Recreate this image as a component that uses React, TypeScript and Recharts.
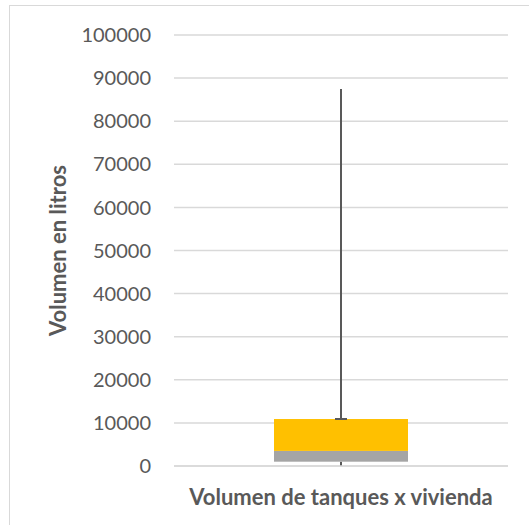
import { ComposedChart, Bar, XAxis, YAxis, CartesianGrid } from 'recharts';

const categories = ['Volumen de tanques x vivienda'];
const minValues = [0];
const q1Values = [1000];
const medianValues = [3500];
const q3Values = [10900];
const maxValues = [87500];
const yTicks = [0, 10000, 20000, 30000, 40000, 50000, 60000, 70000, 80000, 90000, 100000];

const data = categories.map((name, i) => ({
  name,
  min: minValues[i],
  q1: q1Values[i],
  median: medianValues[i],
  q3: q3Values[i],
  max: maxValues[i],
  base: q1Values[i],
  lower: medianValues[i] - q1Values[i],
  upper: q3Values[i] - medianValues[i],
}));

const WHISKER = '#595959';
const TEXT = '#595959';
const GRID = '#d9d9d9';
const FONT = 'Lato, "Open Sans", sans-serif';

// gray segment (Q1 -> median) plus the lower whisker down to the minimum
const LowerBox = (props: any) => {
  const { x, y, width, height, payload, fill } = props;
  const ppu = height / payload.lower;
  const cx = x + width / 2;
  const bottom = y + height;
  const minY = bottom + (payload.q1 - payload.min) * ppu;
  return (
    <g>
      <line x1={cx} x2={cx} y1={bottom} y2={minY} stroke={WHISKER} strokeWidth={2} />
      <rect x={x} y={y} width={width} height={height} fill={fill} />
    </g>
  );
};

// yellow segment (median -> Q3) plus the upper whisker up to the maximum
const UpperBox = (props: any) => {
  const { x, y, width, height, payload, fill } = props;
  const ppu = height / payload.upper;
  const cx = x + width / 2;
  const maxY = y - (payload.max - payload.q3) * ppu;
  return (
    <g>
      <rect x={x} y={y} width={width} height={height} fill={fill} />
      <line x1={cx} x2={cx} y1={y} y2={maxY} stroke={WHISKER} strokeWidth={2} />
      <line x1={cx - 6} x2={cx + 6} y1={y} y2={y} stroke={WHISKER} strokeWidth={2} />
    </g>
  );
};

const App = () => (
  <div style={{ position: 'absolute', left: 0, top: 0, width: 529, height: 525, overflow: 'hidden', background: '#fff' }}>
    <div style={{ position: 'absolute', left: 9, top: 5, width: 700, height: 700, border: '1px solid #d9d9d9' }} />
    <div style={{ position: 'absolute', left: 0, top: 0 }}>
      <ComposedChart width={529} height={525} data={data} margin={{ top: 35, right: 21, bottom: 0, left: 0 }} barSize={134}>
        <CartesianGrid vertical={false} stroke={GRID} strokeWidth={1.5} />
        <XAxis
          dataKey="name"
          tick={false}
          tickLine={false}
          axisLine={{ stroke: GRID, strokeWidth: 1.5 }}
          height={59}
          label={{ value: categories[0], position: 'center', dy: 2, fill: TEXT, fontSize: 22, fontWeight: 700, fontFamily: FONT }}
        />
        <YAxis
          width={174}
          domain={[0, 100000]}
          ticks={yTicks}
          interval={0}
          tickLine={false}
          axisLine={false}
          tickMargin={17}
          tick={{ fill: TEXT, fontSize: 20, fontFamily: FONT }}
          label={{ value: 'Volumen en litros', angle: -90, position: 'center', dx: -29, fill: TEXT, fontSize: 22, fontWeight: 700, fontFamily: FONT }}
        />
        <Bar dataKey="base" stackId="box" fill="transparent" isAnimationActive={false} />
        <Bar dataKey="lower" stackId="box" fill="#a5a5a5" shape={LowerBox} isAnimationActive={false} />
        <Bar dataKey="upper" stackId="box" fill="#ffc000" shape={UpperBox} isAnimationActive={false} />
      </ComposedChart>
    </div>
  </div>
);

export default App;
